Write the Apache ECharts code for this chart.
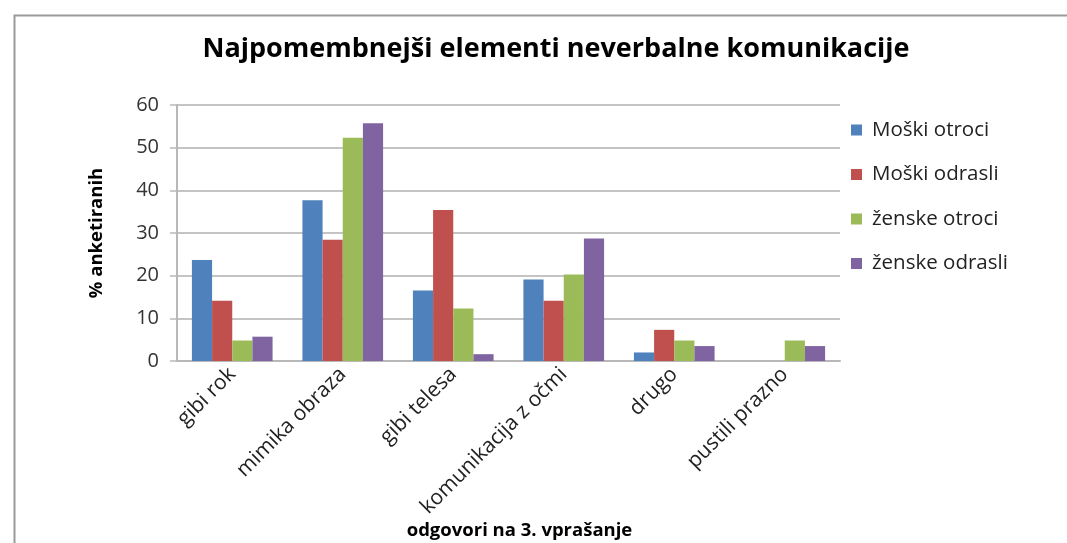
<!DOCTYPE html>
<html>
<head>
<meta charset="utf-8">
<script src="https://cdn.jsdelivr.net/npm/echarts@6/dist/echarts.min.js"></script>
<style>html,body{margin:0;padding:0;background:#fff;}#c{width:1067px;height:543px;}</style>
</head>
<body>
<div id="c"></div>
<script>
const categories = ['gibi rok', 'mimika obraza', 'gibi telesa', 'komunikacija z očmi', 'drugo', 'pustili prazno'];
const seriesNames = ['Moški otroci', 'Moški odrasli', 'ženske otroci', 'ženske odrasli'];
const moskiOtroci = [23.7, 37.7, 16.5, 19.1, 2.0, 0];
const moskiOdrasli = [14.1, 28.4, 35.4, 14.1, 7.3, 0];
const zenskeOtroci = [4.8, 52.3, 12.3, 20.3, 4.8, 4.8];
const zenskeOdrasli = [5.7, 55.7, 1.6, 28.7, 3.5, 3.5];
const yTicks = [0, 10, 20, 30, 40, 50, 60];
const colors = ['#4F81BD', '#C0504D', '#9BBB59', '#8064A2'];
const values = [moskiOtroci, moskiOdrasli, zenskeOtroci, zenskeOdrasli];

const chart = echarts.init(document.getElementById('c'), null, {renderer: 'canvas'});
const font = '"Open Sans", "DejaVu Sans", sans-serif';
chart.setOption({
  animation: false,
  backgroundColor: '#fff',
  graphic: [{
    type: 'rect', left: 12, top: 13, shape: {width: 1080, height: 560},
    style: {fill: 'none', stroke: '#9a9a9a', lineWidth: 2}, z: -1
  }],
  title: {
    text: 'Najpomembnejši elementi neverbalne komunikacije',
    left: 551, top: 31, textAlign: 'center',
    textStyle: {fontFamily: font, fontSize: 27, fontWeight: 'bold', color: '#000'}
  },
  legend: {
    orient: 'vertical', left: 846, top: 113, itemGap: 20.5,
    itemWidth: 11, itemHeight: 11, icon: 'rect',
    data: seriesNames,
    textStyle: {fontFamily: font, fontSize: 20.5, color: '#222', lineHeight: 24, padding: [0, 0, 0, 5]}
  },
  grid: {left: 177, top: 105, right: 227, bottom: 182, containLabel: false},
  xAxis: {
    type: 'category', data: categories,
    name: 'odgovori na 3. vprašanje', nameLocation: 'middle', nameGap: 151,
    nameTextStyle: {fontFamily: font, fontSize: 18.5, fontWeight: 'bold', color: '#000', padding: [0, 0, 0, 22]},
    axisLine: {lineStyle: {color: '#b8b8b8', width: 2}},
    axisTick: {show: false},
    axisLabel: {rotate: 45, interval: 0, fontFamily: font, fontSize: 21, color: '#222', margin: 10}
  },
  yAxis: {
    type: 'value', min: 0, max: 60, interval: 10,
    name: '% anketiranih', nameLocation: 'middle', nameGap: 71, nameRotate: 90,
    nameTextStyle: {fontFamily: font, fontSize: 18.5, fontWeight: 'bold', color: '#000'},
    axisLine: {show: true, lineStyle: {color: '#b8b8b8', width: 2}},
    axisTick: {show: true, inside: false, length: 7, lineStyle: {color: '#b8b8b8', width: 1.5}},
    splitLine: {lineStyle: {color: '#c4c4c4', width: 2}},
    axisLabel: {fontFamily: font, fontSize: 20, color: '#333', margin: 18,
      formatter: v => yTicks.includes(v) ? String(v) : ''}
  },
  series: values.map((d, i) => ({
    name: seriesNames[i], type: 'bar', data: d,
    barGap: '0%', barCategoryGap: '27%',
    itemStyle: {color: colors[i]}
  }))
});
</script>
</body>
</html>
